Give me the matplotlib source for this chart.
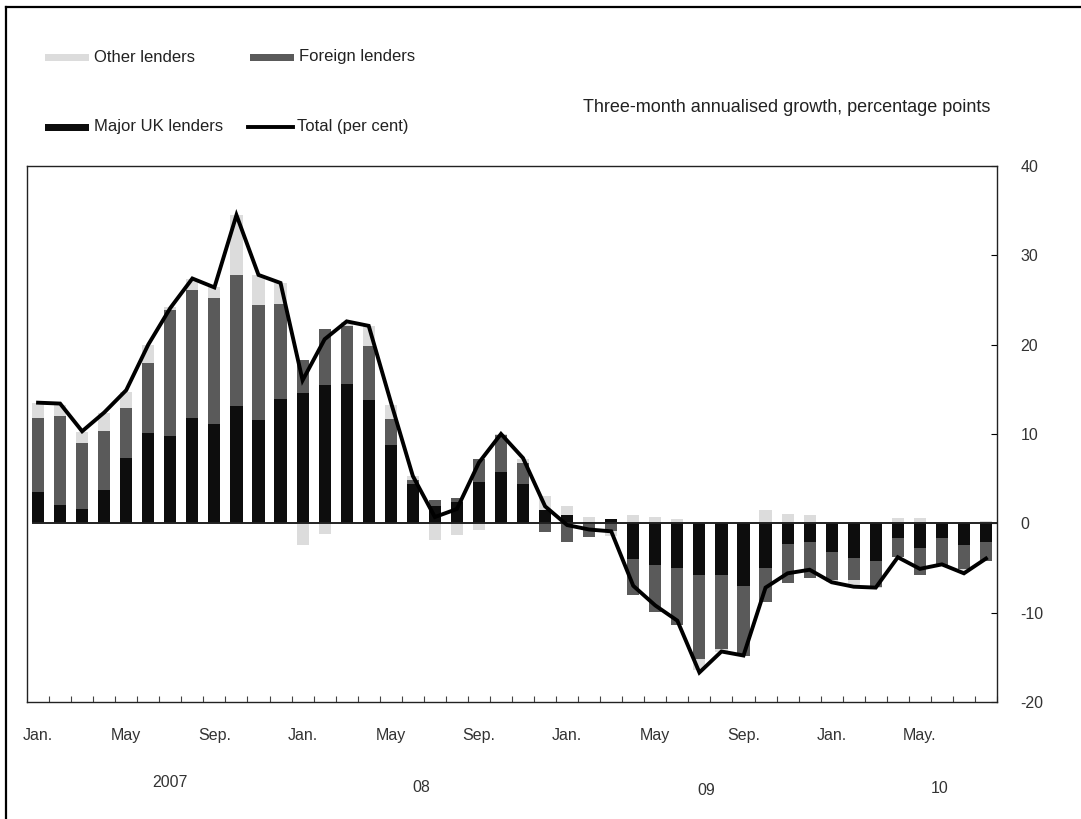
import numpy as np
import matplotlib
matplotlib.use("Agg")
import matplotlib.pyplot as plt
from matplotlib.patches import Rectangle
from matplotlib.lines import Line2D

plt.rcParams['font.family'] = ['Liberation Sans', 'DejaVu Sans']
plt.rcParams['axes.unicode_minus'] = False

# Monthly data, Jan 2007 to Aug 2010 (three-month annualised growth, pp)
major_uk = [3.5, 2.0, 1.6, 3.7, 7.3, 10.1, 9.8, 11.8, 11.1, 13.1, 11.6, 13.9,
            14.6, 15.5, 15.6, 13.8, 8.8, 4.4, 1.9, 2.4, 4.6, 5.7, 4.4, 1.5,
            0.95, 0.1, 0.5, -4.0, -4.7, -5.05, -5.8, -5.8, -7.0, -4.95, -2.35, -2.1,
            -3.2, -3.9, -4.2, -1.7, -2.8, -1.7, -2.45, -2.1]
foreign = [8.3, 10.0, 7.4, 6.6, 5.6, 7.8, 14.1, 14.3, 14.1, 14.7, 12.8, 10.7,
           3.7, 6.3, 6.5, 6.1, 2.9, 0.4, 0.7, 0.4, 2.6, 4.2, 2.3, -1.0,
           -2.1, -1.5, -0.9, -4.0, -5.25, -6.35, -9.4, -8.3, -7.8, -3.9, -4.35, -4.05,
           -3.2, -2.5, -2.9, -2.1, -3.0, -3.05, -2.65, -2.1]
other = [1.7, 1.2, 1.2, 2.1, 1.8, 2.1, 0.3, 1.2, 1.3, 6.7, 3.4, 2.3,
         -2.4, -1.2, 0.4, 2.2, 1.5, 0.5, -1.9, -1.3, -0.7, 0.1, 0.5, 1.5,
         1.0, 0.6, -0.5, 0.9, 0.65, 0.5, -1.2, -0.3, 0.0, 1.5, 1.05, 0.95,
         -0.2, -0.5, -0.1, 0.6, 0.6, 0.1, -0.4, 0.25]
total = [13.5, 13.4, 10.3, 12.4, 14.9, 20.0, 24.1, 27.4, 26.4, 34.5, 27.8, 26.9,
         16.0, 20.6, 22.6, 22.1, 13.6, 5.3, 0.7, 1.6, 6.8, 10.0, 7.3, 1.9,
         -0.2, -0.7, -0.9, -7.0, -9.2, -10.9, -16.7, -14.35, -14.8, -7.2, -5.6, -5.2,
         -6.6, -7.1, -7.2, -3.8, -5.1, -4.6, -5.6, -3.95]

month_labels = ['Jan.', 'May', 'Sep.', 'Jan.', 'May', 'Sep.',
                'Jan.', 'May', 'Sep.', 'Jan.', 'May.']
year_labels = ['2007', '08', '09', '10']
year_pos = [6.0, 17.4, 30.3, 40.9]

c_major = '#0d0d0d'
c_foreign = '#5a5a5a'
c_other = '#dcdcdc'

fig = plt.figure(figsize=(10.81, 8.19), dpi=100)
ax = fig.add_axes([0.025, 0.1429, 0.8973, 0.6545])

x = np.arange(len(total))
pos_base = np.zeros(len(x))
neg_base = np.zeros(len(x))
for vals, col in [(major_uk, c_major), (foreign, c_foreign), (other, c_other)]:
    v = np.array(vals)
    bottom = np.where(v >= 0, pos_base, neg_base)
    ax.bar(x, v, bottom=bottom, width=0.55, color=col, linewidth=0, zorder=2)
    pos_base += np.where(v >= 0, v, 0)
    neg_base += np.where(v < 0, v, 0)

ax.axhline(0, xmin=0.006, color='#222222', lw=1.4, zorder=3)
ax.plot(x, total, color='black', lw=2.8, solid_joinstyle='miter', zorder=4)

ax.set_xlim(-0.5, len(x) - 0.5)
ax.set_ylim(-20, 40)

# y axis on the right
ax.yaxis.tick_right()
ax.set_yticks(np.arange(-20, 41, 10))
ax.tick_params(axis='y', direction='in', length=4, width=0.8, pad=17,
               labelsize=11.5, labelcolor='#333333')

# x axis: labels every 4 months, tick marks at month boundaries
ax.set_xticks(np.arange(0, len(x), 4))
ax.set_xticklabels(month_labels)
ax.set_xticks(np.arange(0.5, len(x), 1), minor=True)
ax.tick_params(axis='x', which='major', length=0, pad=19, labelsize=11.5,
               labelcolor='#333333')
ax.tick_params(axis='x', which='minor', direction='in', length=4, width=0.8,
               color='#444444')

for s in ax.spines.values():
    s.set_linewidth(1.0)
    s.set_color('#222222')

year_y = [-0.137, -0.146, -0.151, -0.148]
for yl, xp, yp in zip(year_labels, year_pos, year_y):
    ax.text(xp, yp, yl, transform=ax.get_xaxis_transform(), ha='center',
            va='top', fontsize=11.5, color='#333333')

# legend drawn by hand, like the original
def fx(px):
    return px / 1081.0

def fy(py):
    return 1 - py / 819.0

leg = [('Other lenders', c_other, 45, 57, 'patch'),
       ('Foreign lenders', c_foreign, 250, 57, 'patch'),
       ('Major UK lenders', c_major, 45, 127, 'patch'),
       ('Total (per cent)', 'black', 248, 127, 'line')]
for label, col, px, py, kind in leg:
    if kind == 'patch':
        fig.add_artist(Rectangle((fx(px), fy(py + 3.5)), fx(44), 7 / 819.0,
                                 transform=fig.transFigure, color=col, lw=0))
    else:
        fig.add_artist(Line2D([fx(px), fx(px + 45)], [fy(py), fy(py)],
                              transform=fig.transFigure, color=col, lw=2.8))
    fig.text(fx(px + 49), fy(py), label, ha='left', va='center', fontsize=12,
             color='#222222')

fig.text(fx(990), fy(107), 'Three-month annualised growth, percentage points',
         ha='right', va='center', fontsize=13, color='#222222')

# figure frame (top and left edges visible)
fig.add_artist(Line2D([fx(6), 1.0], [fy(7), fy(7)], transform=fig.transFigure,
                      color='black', lw=1.6))
fig.add_artist(Line2D([fx(6), fx(6)], [fy(7), 0.0], transform=fig.transFigure,
                      color='black', lw=1.6))

fig.savefig('out.png', dpi=100)
